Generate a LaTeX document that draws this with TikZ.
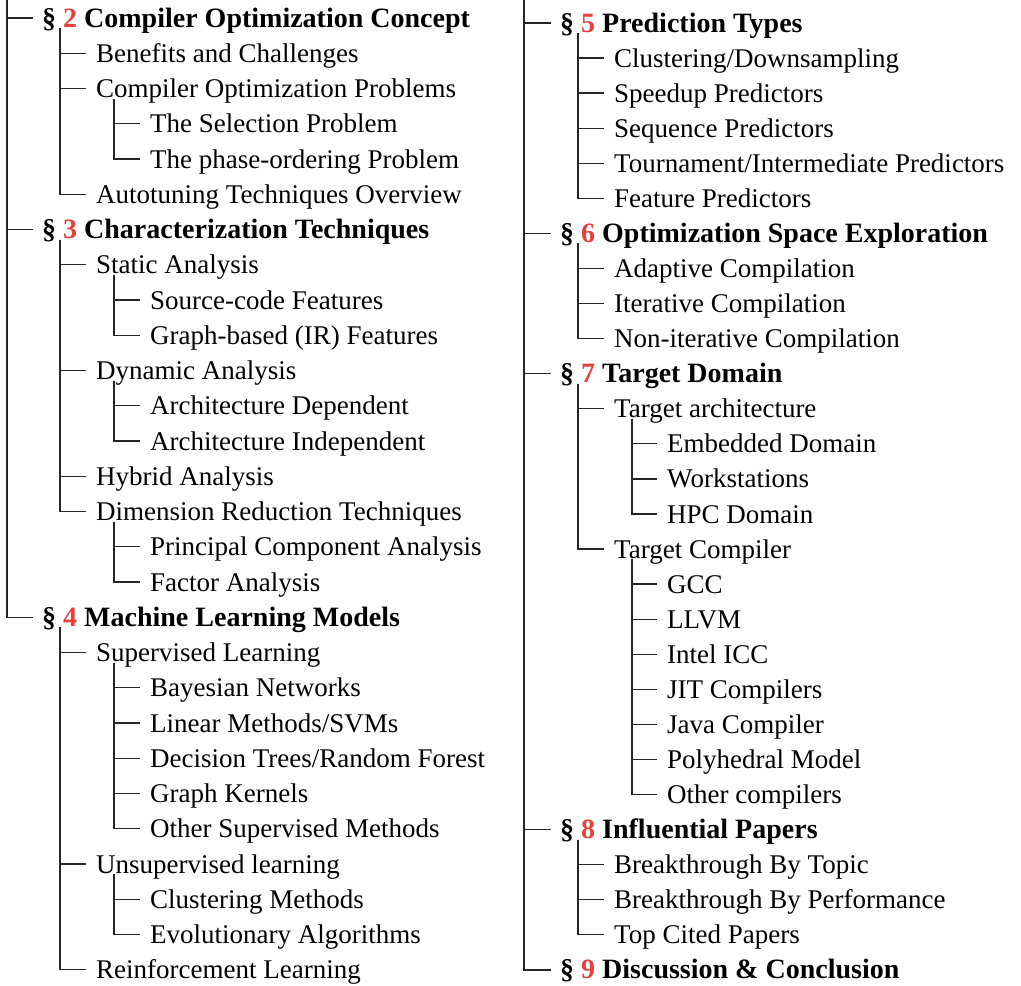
\documentclass[tikz,border=0pt]{standalone}
\usepackage{fontspec}
\setmainfont{Liberation Serif}
\usepackage{xcolor}
\definecolor{secred}{HTML}{E8403A}
\tikzset{
  conn/.style={draw=black!85, line width=1.3pt},
  item/.style={anchor=west, inner sep=0pt, text height=18pt, text depth=0pt, font=\fontsize{27}{31}\selectfont},
  head/.style={item, font=\fontsize{28}{32}\selectfont\bfseries}
}
\newcommand\cn[2]{\draw[conn] ([shift={(18,10)}]#1.west) |- ([xshift=-10]#2.west);}
\newcommand\secnum[1]{\S\ \textcolor{secred}{#1}}
\begin{document}
\begin{tikzpicture}[x=1pt,y=-1pt]
\useasboundingbox (0,0) rectangle (1021,986);
% left column
\node[head] (h2) at (42,18.0) {\secnum{2} Compiler Optimization Concept};
\node[item] (a1) at (96,53.3) {Benefits and Challenges};
\node[item] (a2) at (96,88.5) {Compiler Optimization Problems};
\node[item] (a21) at (150,123.8) {The Selection Problem};
\node[item] (a22) at (150,159.0) {The phase-ordering Problem};
\node[item] (a3) at (96,194.3) {Autotuning Techniques Overview};
\node[head] (h3) at (42,229.5) {\secnum{3} Characterization Techniques};
\node[item] (b1) at (96,264.8) {Static Analysis};
\node[item] (b11) at (150,300.0) {Source-code Features};
\node[item] (b12) at (150,335.3) {Graph-based (IR) Features};
\node[item] (b2) at (96,370.5) {Dynamic Analysis};
\node[item] (b21) at (150,405.8) {Architecture Dependent};
\node[item] (b22) at (150,441.0) {Architecture Independent};
\node[item] (b3) at (96,476.3) {Hybrid Analysis};
\node[item] (b4) at (96,511.5) {Dimension Reduction Techniques};
\node[item] (b41) at (150,546.8) {Principal Component Analysis};
\node[item] (b42) at (150,582.0) {Factor Analysis};
\node[head] (h4) at (42,617.3) {\secnum{4} Machine Learning Models};
\node[item] (c1) at (96,652.5) {Supervised Learning};
\node[item] (c11) at (150,687.8) {Bayesian Networks};
\node[item] (c12) at (150,723.0) {Linear Methods/SVMs};
\node[item] (c13) at (150,758.3) {Decision Trees/Random Forest};
\node[item] (c14) at (150,793.5) {Graph Kernels};
\node[item] (c15) at (150,828.8) {Other Supervised Methods};
\node[item] (c2) at (96,864.0) {Unsupervised learning};
\node[item] (c21) at (150,899.3) {Clustering Methods};
\node[item] (c22) at (150,934.5) {Evolutionary Algorithms};
\node[item] (c3) at (96,969.8) {Reinforcement Learning};
% right column
\node[head] (h5) at (560,23.0) {\secnum{5} Prediction Types};
\node[item] (d1) at (614,58.1) {Clustering/Downsampling};
\node[item] (d2) at (614,93.1) {Speedup Predictors};
\node[item] (d3) at (614,128.2) {Sequence Predictors};
\node[item] (d4) at (614,163.3) {Tournament/Intermediate Predictors};
\node[item] (d5) at (614,198.4) {Feature Predictors};
\node[head] (h6) at (560,233.4) {\secnum{6} Optimization Space Exploration};
\node[item] (e1) at (614,268.5) {Adaptive Compilation};
\node[item] (e2) at (614,303.6) {Iterative Compilation};
\node[item] (e3) at (614,338.6) {Non-iterative Compilation};
\node[head] (h7) at (560,373.7) {\secnum{7} Target Domain};
\node[item] (f1) at (614,408.8) {Target architecture};
\node[item] (f11) at (667,443.8) {Embedded Domain};
\node[item] (f12) at (667,478.9) {Workstations};
\node[item] (f13) at (667,514.0) {HPC Domain};
\node[item] (f2) at (614,549.1) {Target Compiler};
\node[item] (f21) at (667,584.1) {GCC};
\node[item] (f22) at (667,619.2) {LLVM};
\node[item] (f23) at (667,654.3) {Intel ICC};
\node[item] (f24) at (667,689.3) {JIT Compilers};
\node[item] (f25) at (667,724.4) {Java Compiler};
\node[item] (f26) at (667,759.5) {Polyhedral Model};
\node[item] (f27) at (667,794.6) {Other compilers};
\node[head] (h8) at (560,829.6) {\secnum{8} Influential Papers};
\node[item] (g1) at (614,864.7) {Breakthrough By Topic};
\node[item] (g2) at (614,899.8) {Breakthrough By Performance};
\node[item] (g3) at (614,934.8) {Top Cited Papers};
\node[head] (h9) at (560,969.9) {\secnum{9} Discussion \& Conclusion};
% trunks
\coordinate (lt) at (7,0);
\coordinate (rt) at (524,0);
\foreach \h in {h2,h3,h4}{\draw[conn] (lt) |- ([xshift=-9]\h.west);}
\foreach \h in {h5,h6,h7,h8,h9}{\draw[conn] (rt) |- ([xshift=-9]\h.west);}
% left connectors
\foreach \c in {a1,a2,a3}{\cn{h2}{\c}}
\foreach \c in {a21,a22}{\cn{a2}{\c}}
\foreach \c in {b1,b2,b3,b4}{\cn{h3}{\c}}
\foreach \c in {b11,b12}{\cn{b1}{\c}}
\foreach \c in {b21,b22}{\cn{b2}{\c}}
\foreach \c in {b41,b42}{\cn{b4}{\c}}
\foreach \c in {c1,c2,c3}{\cn{h4}{\c}}
\foreach \c in {c11,c12,c13,c14,c15}{\cn{c1}{\c}}
\foreach \c in {c21,c22}{\cn{c2}{\c}}
% right connectors
\foreach \c in {d1,d2,d3,d4,d5}{\cn{h5}{\c}}
\foreach \c in {e1,e2,e3}{\cn{h6}{\c}}
\foreach \c in {f1,f2}{\cn{h7}{\c}}
\foreach \c in {f11,f12,f13}{\cn{f1}{\c}}
\foreach \c in {f21,f22,f23,f24,f25,f26,f27}{\cn{f2}{\c}}
\foreach \c in {g1,g2,g3}{\cn{h8}{\c}}
\end{tikzpicture}
\end{document}
